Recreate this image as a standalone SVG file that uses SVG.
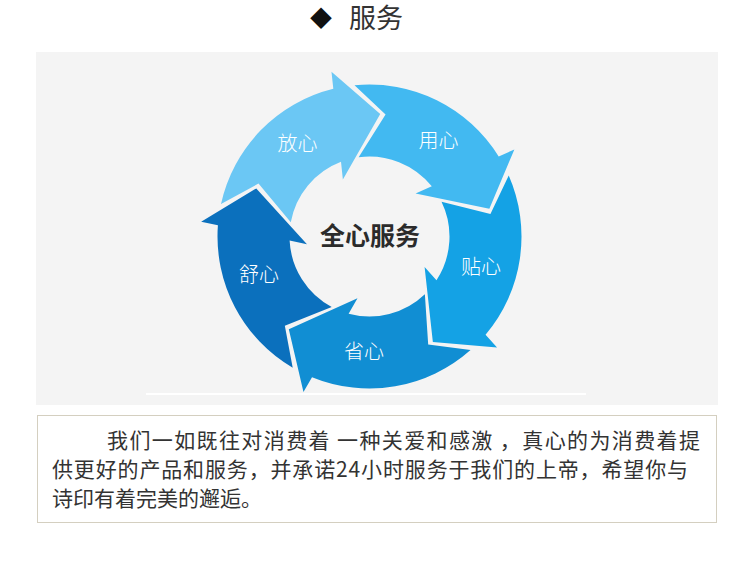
<svg xmlns="http://www.w3.org/2000/svg" xmlns:xlink="http://www.w3.org/1999/xlink" width="750" height="567" viewBox="0 0 750 567">
<style>
.lbl{font-family:"Noto Sans CJK SC","Noto Sans",sans-serif;font-size:20px;fill:#ffffff;text-anchor:middle;font-weight:300}
.ctr{font-family:"Noto Sans CJK SC","Noto Sans",sans-serif;font-size:25px;fill:#2b2b2b;text-anchor:middle;font-weight:700}
.body{font-family:"Noto Sans CJK SC","Noto Sans",sans-serif;font-size:21px;fill:#333333}
.title{font-family:"Noto Sans CJK SC","Noto Sans",sans-serif;font-size:27px;fill:#333333;text-anchor:middle}
</style>
<defs>
<path id="arw" d="M -150.76 -19.42 A 152 152 0 0 1 -48.93 -143.91 L -52.22 -160.73 L 0 -123 L -31.5 -54.56 L -34.9 -71.98 A 80 80 0 0 0 -79.67 -7.25 L -115.21 -43.08 Z"/>
</defs>
<rect x="0" y="0" width="750" height="567" fill="#ffffff"/>
<g id="title">
<text class="title" x="321" y="26" style="font-size:22px;fill:#111">◆</text>
<text class="title" x="376" y="28">服务</text>
</g>
<rect x="36" y="52" width="682" height="353" fill="#f4f4f4"/>
<line x1="146" y1="394" x2="586" y2="394" stroke="#ffffff" stroke-width="2"/>
<g id="connectors">
<g id="a-fangxin"><use xlink:href="#arw" transform="translate(369.5,236.5) rotate(5)" fill="#6bc7f4"/></g>
<g id="a-yongxin"><use xlink:href="#arw" transform="translate(369.5,236.5) rotate(77)" fill="#42b9f1"/></g>
<g id="a-tiexin"><use xlink:href="#arw" transform="translate(369.5,236.5) rotate(149)" fill="#14a2e5"/></g>
<g id="a-shengxin"><use xlink:href="#arw" transform="translate(369.5,236.5) rotate(221)" fill="#118ed3"/></g>
<g id="a-shuxin"><use xlink:href="#arw" transform="translate(369.5,236.5) rotate(293)" fill="#0b70bd"/></g>
</g>
<g id="n-fangxin"><text class="lbl" x="297.5" y="150.5">放心</text></g>
<g id="n-yongxin"><text class="lbl" x="438.5" y="148">用心</text></g>
<g id="n-tiexin"><text class="lbl" x="481" y="274">贴心</text></g>
<g id="n-shengxin"><text class="lbl" x="364" y="359">省心</text></g>
<g id="n-shuxin"><text class="lbl" x="259" y="282">舒心</text></g>
<g id="n-center"><text class="ctr" x="370" y="245">全心服务</text></g>
<g id="textbox">
<rect x="37.5" y="415.5" width="679" height="107" fill="#ffffff" stroke="#d4cfc0" stroke-width="1"/>
<text class="body" x="107" y="448" textLength="593" lengthAdjust="spacing">我们一如既往对消费着 一种关爱和感激 ，真心的为消费着提</text>
<text class="body" x="52" y="477" textLength="636" lengthAdjust="spacing">供更好的产品和服务，并承诺24小时服务于我们的上帝，希望你与</text>
<text class="body" x="52" y="506">诗印有着完美的邂逅。</text>
</g>
</svg>
